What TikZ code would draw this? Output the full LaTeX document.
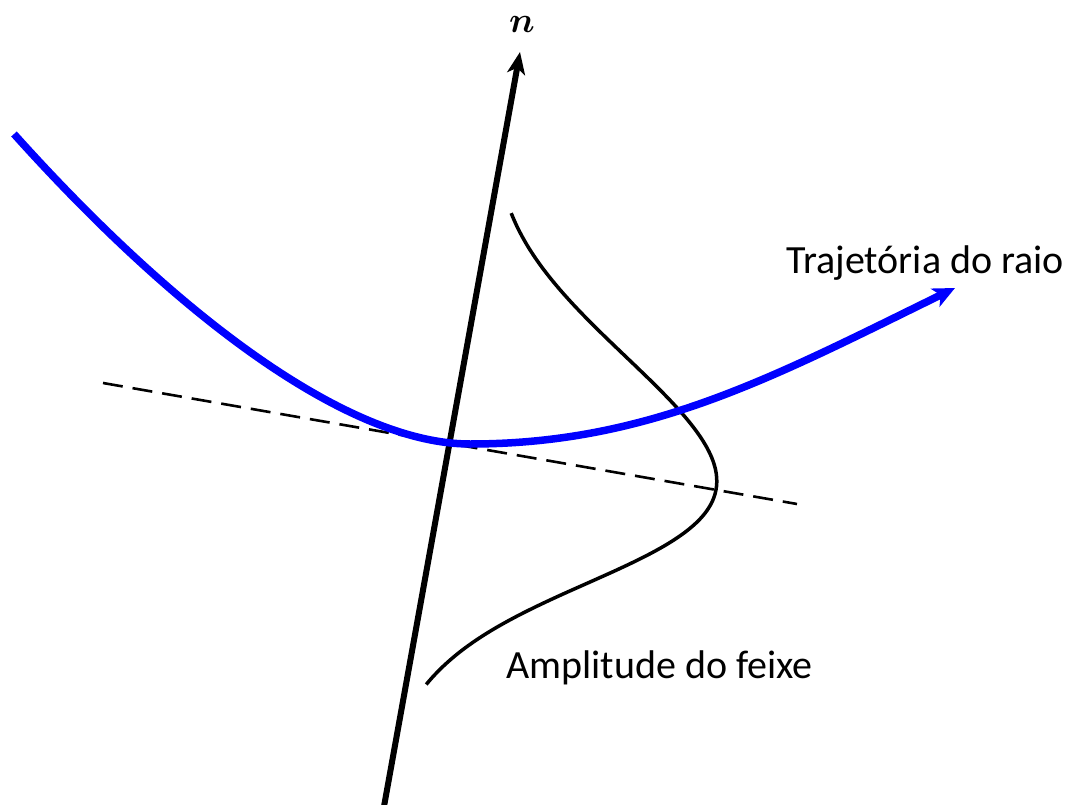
\documentclass[tikz,border=0pt]{standalone}
\usepackage{amsmath}
\usepackage{fontspec}
\setmainfont{Carlito}
\usetikzlibrary{arrows.meta}
\tikzset{
  axisline/.style={line width=6pt,-{Stealth[length=22pt,width=18pt,inset=6pt]}},
  rayline/.style={line width=7.5pt,blue,-{Stealth[length=22pt,width=20pt,inset=6pt]}},
  beamline/.style={line width=3.5pt},
  tangline/.style={line width=2.6pt,dash pattern=on 20pt off 10pt},
  lbl/.style={font=\fontsize{40}{48}\selectfont,inner sep=0pt,anchor=base west}
}
\begin{document}
\begin{tikzpicture}[x=1pt,y=-1pt]
\useasboundingbox[fill=white] (0,0) rectangle (1073,805);
% tangent (dashed)
\coordinate (tl) at (103,383);
\coordinate (tr) at (797,504);
\draw[tangline] (tl) -- (tr);
% normal axis
\coordinate (nb) at (383,812);
\coordinate (nt) at (520,52);
\draw[axisline] (nb) -- (nt);
\node[inner sep=0pt,anchor=base,scale=3.6] (nlab) at (522,33) {$\boldsymbol{n}$};
% beam amplitude (gaussian)
\draw[beamline] plot[domain=-242:237,samples=120,smooth,variable=\t]
  ({450+0.985*(-12.9+283*exp(-(\t/162.6)*(\t/162.6)))+0.1714*\t},
   {443+0.1714*(-12.9+283*exp(-(\t/162.6)*(\t/162.6)))-0.985*\t});
% ray trajectory
\coordinate (rs) at (14,134);
\coordinate (rm) at (470,444);
\coordinate (re) at (955,288);
\draw[rayline] (rs) .. controls (181,320) and (350,444) .. (rm)
  .. controls (650,444) and (775,376) .. (re);
% labels
\node[lbl] (traj) at (786,273) {Trajetória do raio};
\node[lbl] (ampl) at (506,678) {Amplitude do feixe};
\end{tikzpicture}
\end{document}
